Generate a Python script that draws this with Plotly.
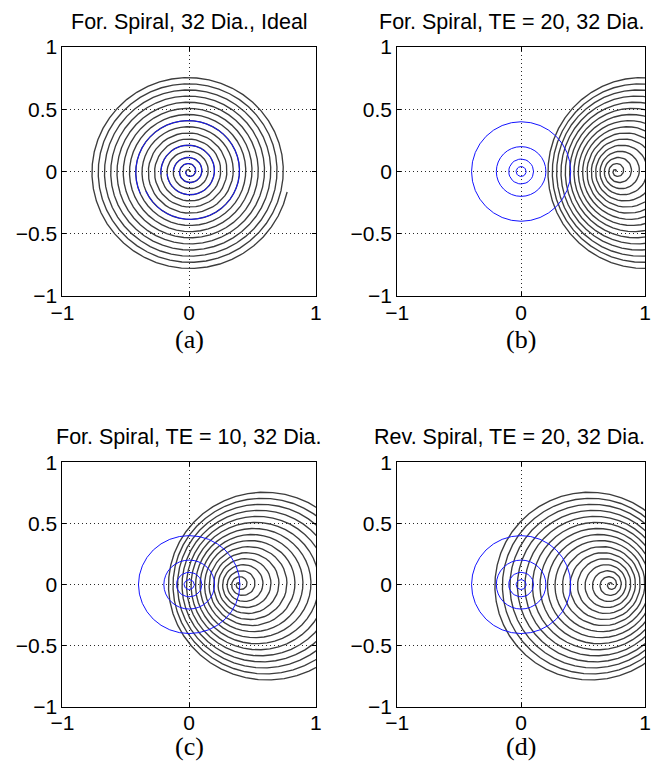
import numpy as np
import plotly.graph_objects as go

# ---------------- data ----------------
panel_titles = ["For. Spiral, 32 Dia., Ideal", "For. Spiral, TE = 20, 32 Dia.",
                "For. Spiral, TE = 10, 32 Dia.", "Rev. Spiral, TE = 20, 32 Dia."]
panel_letters = ["(a)", "(b)", "(c)", "(d)"]

# black (acquired) spiral: centre x at r=0 and drift of the centre at the outer radius
black_center_x = [0.0, 0.76, 0.39, 0.73]
black_center_drift = [0.0, 0.23, 0.22, -0.18]
black_turns = 16
black_rmax = 0.79
black_end_angle_deg = -12

# blue turns of panel (a): mean radius of each highlighted turn of the spiral
blue_a_turn_radii = [0.05, 0.1, 0.2, 0.4]
# blue rings of panels (b)-(d)
blue_ring_radii = [0.04, 0.1, 0.2, 0.4]

x_tickvals = [-1, 0, 1]
x_ticktext = ["\u22121", "0", "1"]
y_tickvals = [-1, -0.5, 0, 0.5, 1]
y_ticktext = ["\u22121", "\u22120.5", "0", "0.5", "1"]

# ---------------- layout geometry ----------------
W, H = 655, 774
PAD = 10  # the photograph shows the page inside a thin white frame


def page_x(p):
    return p * (W + 2 * PAD) / W - PAD


def page_y(p):
    return p * (H + 2 * PAD) / H - PAD


# plot boxes wanted in the picture (left, right, top, bottom)
boxes = [(60, 313, 45, 295), (394, 646, 45, 295),
         (60, 313, 462, 708), (394, 646, 462, 708)]

fig = go.Figure()
sans = "Liberation Sans, Arial, Helvetica, sans-serif"
serif = "Liberation Serif, Times New Roman, serif"
BLACK = "rgb(60,60,60)"
BLUE = "rgb(20,20,255)"
pitch = black_rmax / black_turns

annotations = []
for i in range(4):
    ax = "" if i == 0 else str(i + 1)
    xref, yref = "x" + ax, "y" + ax
    n = black_turns * 48 + 1
    s = np.linspace(0, 1, n)
    th = 2 * np.pi * black_turns * s + np.deg2rad(black_end_angle_deg)
    r = black_rmax * s
    cx = black_center_x[i] + black_center_drift[i] * s
    fig.add_trace(go.Scatter(x=cx + r * np.cos(th), y=r * np.sin(th), mode="lines",
                             line=dict(color=BLACK, width=1.35), xaxis=xref, yaxis=yref,
                             showlegend=False, hoverinfo="skip"))
    if i == 0:
        for R in blue_a_turn_radii:
            rs = np.linspace(max(R - pitch / 2, 0), R + pitch / 2, 49)
            tt = 2 * np.pi * rs / pitch + np.deg2rad(black_end_angle_deg)
            fig.add_trace(go.Scatter(x=rs * np.cos(tt), y=rs * np.sin(tt), mode="lines",
                                     line=dict(color=BLUE, width=1), xaxis=xref, yaxis=yref,
                                     showlegend=False, hoverinfo="skip"))
    else:
        for rr in blue_ring_radii:
            t = np.linspace(0, 2 * np.pi, 33)
            fig.add_trace(go.Scatter(x=rr * np.cos(t), y=rr * np.sin(t), mode="lines",
                                     line=dict(color=BLUE, width=1), xaxis=xref, yaxis=yref,
                                     showlegend=False, hoverinfo="skip"))
    bx0, bx1, by0, by1 = boxes[i]
    x0, x1 = page_x(bx0), min(page_x(bx1), 651)
    y0, y1 = page_y(by0), page_y(by1)
    top_row = i < 2
    common = dict(showline=True, linecolor="black", linewidth=1, mirror="ticks",
                  ticks="inside", ticklen=4, tickcolor="black",
                  showgrid=True, gridcolor="rgb(40,40,40)", griddash="1px,3px", gridwidth=1,
                  zeroline=False, tickfont=dict(family=sans, size=21, color="black"))
    fig.layout["xaxis" + ax] = dict(domain=[x0 / W, x1 / W], range=[-1, 1],
                                    tickvals=x_tickvals, ticktext=x_ticktext,
                                    ticklabelstandoff=-2 if top_row else -3,
                                    anchor="y" + ax, **common)
    fig.layout["yaxis" + ax] = dict(domain=[1 - y1 / H, 1 - y0 / H], range=[-1, 1],
                                    tickvals=y_tickvals, ticktext=y_ticktext,
                                    anchor="x" + ax, **common)
    xc = (x0 + x1) / 2
    right_col = i % 2 == 1
    annotations.append(dict(text=panel_titles[i],
                            x=(653 if right_col else xc) / W,
                            xanchor="right" if right_col else "center",
                            y=1 - (y0 - 26) / H, yanchor="middle",
                            xref="paper", yref="paper", showarrow=False,
                            font=dict(family=sans, size=21.5, color="black")))
    letter_y = y1 + 45 if top_row else 757
    annotations.append(dict(text=panel_letters[i], x=xc / W, y=1 - letter_y / H,
                            xref="paper", yref="paper", showarrow=False,
                            xanchor="center", yanchor="middle",
                            font=dict(family=serif, size=26, color="black")))

fig.update_layout(width=W, height=H, margin=dict(l=0, r=0, t=0, b=0),
                  paper_bgcolor="white", plot_bgcolor="white",
                  annotations=annotations, showlegend=False)
fig.write_html("out.html", config={"displayModeBar": False},
               post_script="document.body.style.margin='0';"
                           "document.body.style.overflow='hidden';")
